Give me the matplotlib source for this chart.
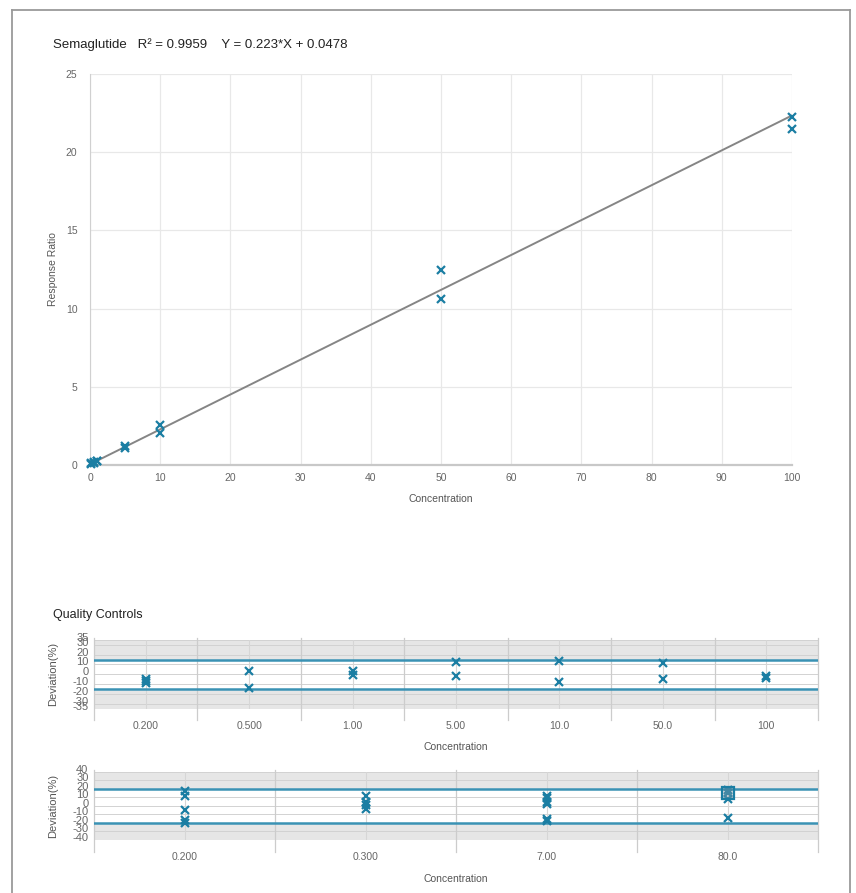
import matplotlib
matplotlib.use("Agg")
import matplotlib.pyplot as plt
from matplotlib.transforms import ScaledTranslation, blended_transform_factory
from matplotlib.lines import Line2D

plt.rcParams['font.family'] = ['Liberation Sans', 'DejaVu Sans']

# ---- calibration ----
compound = "Semaglutide"
r_squared = 0.9959
slope = 0.223
intercept = 0.0478

std_conc = [0.2, 0.2, 0.5, 0.5, 1, 1, 5, 5, 10, 10, 50, 50, 100, 100]
std_ratio = [0.08, 0.10, 0.15, 0.18, 0.27, 0.25, 1.22, 1.07, 2.56, 2.03,
             12.48, 10.60, 22.25, 21.48]

# ---- quality controls, run 1 ----
qc1_levels = ["0.200", "0.500", "1.00", "5.00", "10.0", "50.0", "100"]
qc1_level_idx = [0, 0, 0, 1, 1, 2, 2, 3, 3, 4, 4, 5, 5, 6, 6]
qc1_dev = [-4.5, -6.5, -9.0, 3.7, -13.7, 3.4, -0.7, 12.9, -1.4,
           13.6, -8.2, 11.2, -5.1, -1.4, -4.1]
qc1_limit = 15
qc1_ticks = [35, 30, 20, 10, 0, -10, -20, -30, -35]

# ---- quality controls, run 2 ----
qc2_levels = ["0.200", "0.300", "7.00", "80.0"]
qc2_level_idx = [0, 0, 0, 0, 0, 1, 1, 1, 1, 2, 2, 2, 2, 2, 2, 3, 3, 3, 3]
qc2_dev = [17, 11, -5, -16, -20, 11, 5, 1, -4,
           12, 9, 5, 2, -15, -18, 18, 15, 8, -14]
qc2_limit = 20
qc2_ticks = [40, 30, 20, 10, 0, -10, -20, -30, -40]
qc2_selected_idx = 3
qc2_selected_dev = 15.6

MARK = '#1b7ea3'
LIMIT = '#3a92b4'
TICK_TXT = '#666666'
LABEL_TXT = '#555555'

fig = plt.figure(figsize=(8.56, 8.93), dpi=100)
W, H = 856, 893


def frac(left, top, right, bottom):
    return [left / W, 1 - bottom / H, (right - left) / W, (bottom - top) / H]


# outer panel frame
for seg in ([(12, 10), (12, H)], [(850, 10), (850, H)], [(12, 10), (850, 10)]):
    xs = [p[0] / W for p in seg]
    ys = [1 - p[1] / H for p in seg]
    fig.add_artist(Line2D(xs, ys, color='#9a9a9a', lw=1.3,
                          transform=fig.transFigure))

# ================= calibration curve =================
ax = fig.add_axes(frac(90, 74, 792, 465))
ax.set_xlim(0, 100)
ax.set_ylim(0, 25)
ax.set_xticks(range(0, 101, 10))
ax.set_yticks(range(0, 26, 5))
ax.grid(True, color='#e8e8e8', lw=0.9)
ax.set_axisbelow(True)
for s in ('top', 'right'):
    ax.spines[s].set_visible(False)
ax.spines['left'].set_color('#d0d0d0')
ax.spines['bottom'].set_color('#c8c8c8')
ax.spines['bottom'].set_linewidth(1.6)
ax.tick_params(length=0, labelsize=7.5, colors=TICK_TXT, pad=6)
ax.tick_params(axis='y', pad=9)

fit_x = [0, 100]
fit_y = [slope * v + intercept for v in fit_x]
ax.plot(fit_x, fit_y, color='#858585', lw=1.4, zorder=2)
ax.plot(std_conc, std_ratio, ls='none', marker='x', ms=6, mew=1.6,
        color=MARK, clip_on=False, zorder=3)
ax.set_xlabel("Concentration", fontsize=7.5, color=LABEL_TXT, labelpad=8)
ax.set_ylabel("Response Ratio", fontsize=7.5, color=LABEL_TXT, labelpad=6)

fig.text(53 / W, 1 - 45 / H,
         f"{compound}   R\u00b2 = {r_squared:.4f}    Y = {slope:.3f}*X + {intercept:.4f}",
         fontsize=9.5, color='#222222', va='center', ha='left')

fig.text(53 / W, 1 - 615 / H, "Quality Controls",
         fontsize=9, color='#222222', va='center', ha='left')


def qc_panel(rect, levels, idx, dev, limit, ticks, span):
    a = fig.add_axes(rect)
    n = len(levels)
    a.set_xlim(-0.5, n - 0.5)
    a.set_ylim(-span, span)
    a.set_facecolor('#e6e6e6')
    a.axhspan(-limit, limit, color='white', zorder=0)
    for t in ticks:
        a.axhline(t, color='#d2d2d2', lw=0.7, zorder=1)
    tr = blended_transform_factory(a.transData, a.transAxes)
    for k in range(n + 1):
        a.plot([k - 0.5, k - 0.5], [-0.17, 1.03], color='#cccccc', lw=0.9,
               transform=tr, clip_on=False, zorder=1)
    for k in range(n):
        a.plot([k, k], [0, 1], color='#d6d6d6', lw=0.8,
               transform=tr, zorder=1)
    a.axhline(limit, color=LIMIT, lw=1.8, zorder=2)
    a.axhline(-limit, color=LIMIT, lw=1.8, zorder=2)
    a.plot(idx, dev, ls='none', marker='x', ms=5.5, mew=1.6, color=MARK,
           zorder=3, clip_on=False)
    for s in a.spines.values():
        s.set_visible(False)
    a.set_xticks(range(n))
    a.set_xticklabels(levels)
    a.set_yticks(ticks)
    a.set_yticklabels([str(t) for t in ticks])
    a.tick_params(length=0, labelsize=7.5, colors=TICK_TXT)
    a.tick_params(axis='x', pad=9)
    a.tick_params(axis='y', pad=4)
    off = ScaledTranslation(0, 3 / 100, fig.dpi_scale_trans)
    for lab in a.get_yticklabels():
        lab.set_transform(lab.get_transform() + off)
        lab.set_fontsize(8)
    a.set_xlabel("Concentration", fontsize=7.5, color=LABEL_TXT, labelpad=8)
    a.set_ylabel("Deviation(%)", fontsize=8, color=LABEL_TXT, labelpad=10)
    return a


ax1 = qc_panel(frac(94, 640, 818, 708.5), qc1_levels, qc1_level_idx,
               qc1_dev, qc1_limit, qc1_ticks, 35)
ax2 = qc_panel(frac(94, 771.7, 818, 840), qc2_levels, qc2_level_idx,
               qc2_dev, qc2_limit, qc2_ticks, 40)
ax2.plot([qc2_selected_idx], [qc2_selected_dev], marker='s', ms=8.5,
         mfc=(0.55, 0.6, 0.65, 0.35), mec=MARK, mew=1.6, ls='none', zorder=4)

fig.savefig("out.png", dpi=100)
